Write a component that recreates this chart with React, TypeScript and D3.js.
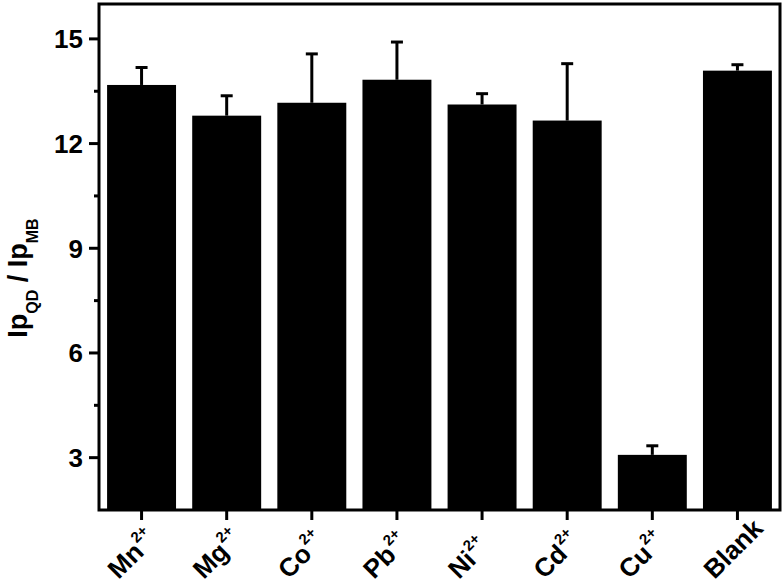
import React, { useEffect, useRef } from "react";
import * as d3 from "d3";

// ions tested, with the mean ratio and its upper error bar
const ions = ["Mn", "Mg", "Co", "Pb", "Ni", "Cd", "Cu", "Blank"];
const charges = ["2+", "2+", "2+", "2+", "2+", "2+", "2+", ""];
const ratios = [13.68, 12.8, 13.17, 13.83, 13.12, 12.66, 3.08, 14.09];
const errors = [0.5, 0.57, 1.4, 1.08, 0.31, 1.63, 0.26, 0.17];
const majorTicks = [3, 6, 9, 12, 15];
const minorTicks = [4.5, 7.5, 10.5, 13.5];

const FONT = "Arial, 'Liberation Sans', Helvetica, sans-serif";

const left = 99, right = 780, top = 4, bottom = 510;

const App = () => {
  const ref = useRef<SVGGElement>(null);

  const x = d3.scaleBand().domain(ions).range([left, right])
    .paddingInner(0.19).paddingOuter(0.095);
  const y = d3.scaleLinear().domain([1.5, 16]).range([bottom, top]);

  useEffect(() => {
    const svg = d3.select(ref.current);
    svg.selectAll("*").remove();

    const rows = ions.map((ion, i) => ({ ion, v: ratios[i], e: errors[i] }));

    // bars
    svg.append("g").selectAll("rect").data(rows).enter().append("rect")
      .attr("x", (d) => x(d.ion)!)
      .attr("width", x.bandwidth())
      .attr("y", (d) => y(d.v))
      .attr("height", (d) => bottom - y(d.v))
      .attr("fill", "#000");

    // upper error bars
    const err = svg.append("g").attr("stroke", "#000").attr("stroke-width", 3);
    rows.forEach((d) => {
      const cx = x(d.ion)! + x.bandwidth() / 2;
      err.append("line").attr("x1", cx).attr("x2", cx).attr("y1", y(d.v)).attr("y2", y(d.v + d.e));
      err.append("line").attr("x1", cx - 6).attr("x2", cx + 6).attr("y1", y(d.v + d.e)).attr("y2", y(d.v + d.e));
    });

    // frame
    svg.append("rect")
      .attr("x", left).attr("y", top)
      .attr("width", right - left).attr("height", bottom - top)
      .attr("fill", "none").attr("stroke", "#000").attr("stroke-width", 3);

    // y ticks
    const yt = svg.append("g").attr("stroke", "#000").attr("stroke-width", 3);
    majorTicks.forEach((t) => {
      yt.append("line").attr("x1", left - 10).attr("x2", left).attr("y1", y(t)).attr("y2", y(t));
    });
    minorTicks.forEach((t) => {
      yt.append("line").attr("x1", left - 5).attr("x2", left).attr("y1", y(t)).attr("y2", y(t));
    });
    svg.append("g").selectAll("text").data(majorTicks).enter().append("text")
      .attr("x", left - 16)
      .attr("y", (d) => y(d))
      .attr("dy", "0.36em")
      .attr("text-anchor", "end")
      .style("font", `bold 26px ${FONT}`)
      .text((d) => d);

    // x ticks
    rows.forEach((d) => {
      const cx = x(d.ion)! + x.bandwidth() / 2;
      svg.append("line")
        .attr("x1", cx).attr("x2", cx).attr("y1", bottom).attr("y2", bottom + 10)
        .attr("stroke", "#000").attr("stroke-width", 3);
    });
  }, []);

  return (
    <svg
      width={784}
      height={586}
      style={{ position: "absolute", left: 0, top: 0, background: "#fff" }}
    >
      <g ref={ref} />
      {/* rotated category labels */}
      {ions.map((ion, i) => {
        const cx = x(ion)! + x.bandwidth() / 2;
        return (
          <g key={ion} transform={`translate(${cx - 23},580)`}>
            <g transform="rotate(-45)">
              <text x={0} y={0} fill="#000" style={{ font: `bold 26px ${FONT}` }}>
                {ion}
                {charges[i] && (
                  <tspan dy={-13} dx={1} style={{ fontSize: 15 }}>
                    {charges[i]}
                  </tspan>
                )}
              </text>
            </g>
          </g>
        );
      })}
      {/* y axis title */}
      <text
        transform="translate(27,278) rotate(-90)"
        textAnchor="middle"
        style={{ font: `bold 27px ${FONT}` }}
      >
        <tspan>Ip</tspan>
        <tspan dy={11} style={{ fontSize: 16 }}>QD</tspan>
        <tspan dy={-11}> / Ip</tspan>
        <tspan dy={11} style={{ fontSize: 16 }}>MB</tspan>
      </text>
    </svg>
  );
};

export default App;
